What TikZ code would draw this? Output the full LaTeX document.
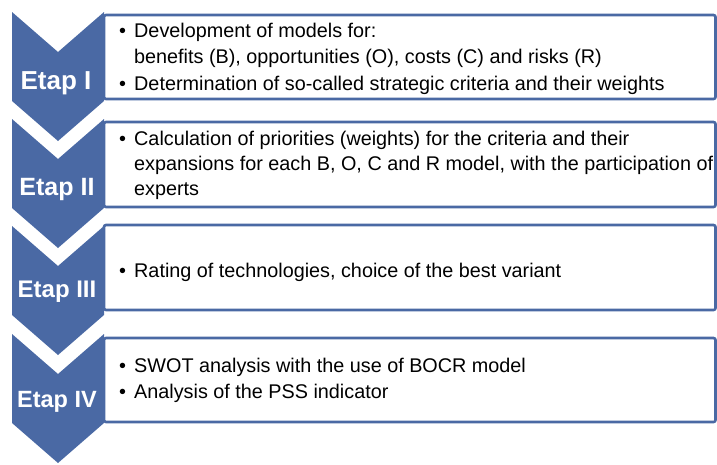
\documentclass[tikz,border=0pt]{standalone}
\usepackage{fontspec}
\setmainfont{Liberation Sans}
\definecolor{etapblue}{RGB}{74,105,164}
\begin{document}
\begin{tikzpicture}
[
x=1pt, y=-1pt,
chevron/.style={fill=etapblue},
etapbox/.style={draw=etapblue, line width=2.6pt, fill=white, rounded corners=2pt},
etaplabel/.style={anchor=base, text=white, inner sep=0pt, font=\bfseries},
bullet/.style={anchor=base west, inner sep=0pt, font=\fontsize{19.8}{24}\selectfont},
item/.style={anchor=base west, inner sep=0pt, font=\fontsize{19.8}{24}\selectfont}
]
\useasboundingbox (0,0) rectangle (717,464);
%Boxes
\draw[etapbox] (104,15) rectangle (715.5,99);
\draw[etapbox] (104,122) rectangle (715.5,207);
\draw[etapbox] (104,225) rectangle (715.5,310);
\draw[etapbox] (104,338) rectangle (715.5,422);
%Chevrons
\fill[chevron] (12,12) -- (58,52) -- (104,12) -- (104,101) -- (58,141) -- (12,101) -- cycle;
\fill[chevron] (12,119) -- (58,159) -- (104,119) -- (104,208) -- (58,248) -- (12,208) -- cycle;
\fill[chevron] (12,226) -- (58,266) -- (104,226) -- (104,315) -- (58,355) -- (12,315) -- cycle;
\fill[chevron] (12,334) -- (58,374) -- (104,334) -- (104,423) -- (58,463) -- (12,423) -- cycle;
%Labels
\node[etaplabel, font=\bfseries\fontsize{26}{26}\selectfont] (e1) at(56,89) {Etap I};
\node[etaplabel, font=\bfseries\fontsize{25}{25}\selectfont] (e2) at(57,195) {Etap II};
\node[etaplabel, font=\bfseries\fontsize{24}{24}\selectfont] (e3) at(57,297) {Etap III};
\node[etaplabel, font=\bfseries\fontsize{23.5}{24}\selectfont] (e4) at(57,407) {Etap IV};
%Texts
\node[bullet]	(b11) at(119,37) {•};
\node[item]	(t11) at(134,37) {Development of models for:};
\node[item]	(t12) at(134,63) {benefits (B), opportunities (O), costs (C) and risks (R)};
\node[bullet]	(b13) at(119,90) {•};
\node[item]	(t13) at(134,90) {Determination of so-called strategic criteria and their weights};
\node[bullet]	(b21) at(119,145) {•};
\node[item]	(t21) at(134,145) {Calculation of priorities (weights) for the criteria and their};
\node[item]	(t22) at(134,170) {expansions for each B, O, C and R model, with the participation of};
\node[item]	(t23) at(134,195) {experts};
\node[bullet]	(b31) at(119,277) {•};
\node[item]	(t31) at(134,277) {Rating of technologies, choice of the best variant};
\node[bullet]	(b41) at(119,372) {•};
\node[item]	(t41) at(134,372) {SWOT analysis with the use of BOCR model};
\node[bullet]	(b42) at(119,398) {•};
\node[item]	(t42) at(134,398) {Analysis of the PSS indicator};
\end{tikzpicture}
\end{document}
